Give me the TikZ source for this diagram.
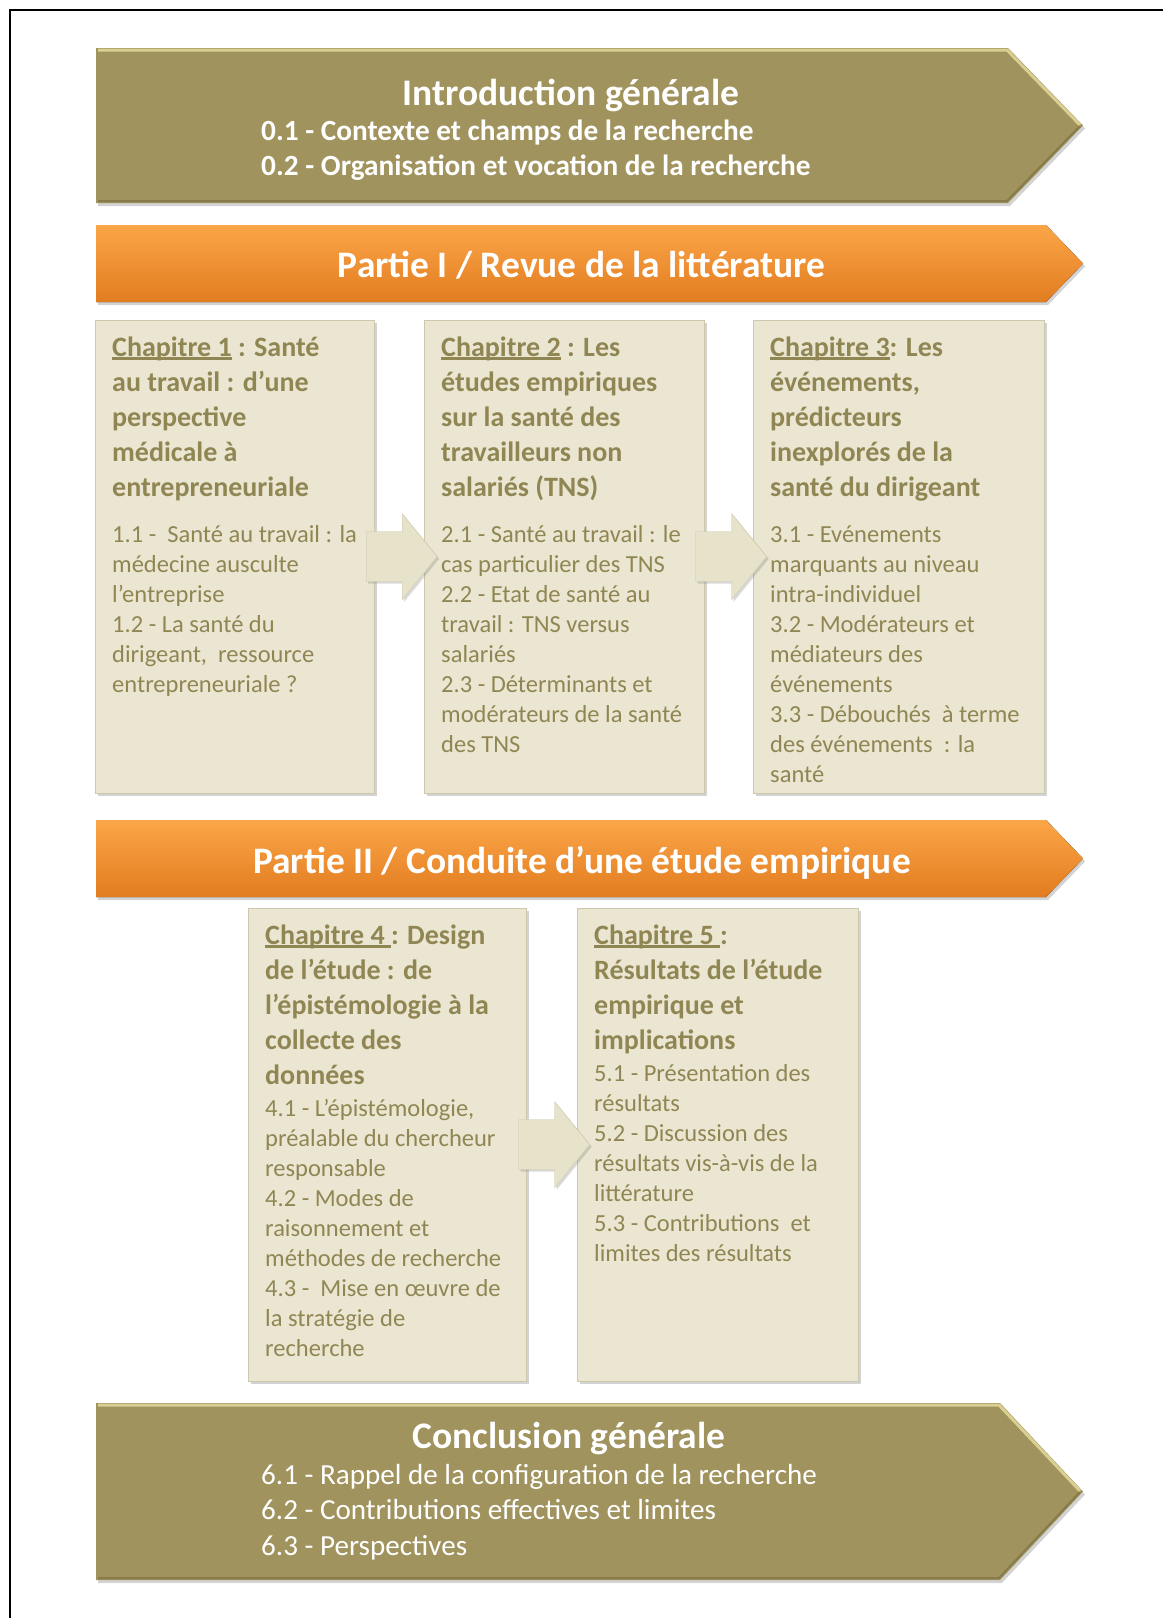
\documentclass[tikz,border=0pt]{standalone}
\usepackage{fontspec}
\setmainfont{Carlito}
\usetikzlibrary{calc}
\usetikzlibrary{shadows}

\definecolor{bannerolive}{HTML}{A0935E}
\definecolor{bannerlight}{HTML}{D9CF93}
\definecolor{bannerdark}{HTML}{867B49}
\definecolor{partietop}{HTML}{FBA648}
\definecolor{partiebot}{HTML}{E27C20}
\definecolor{boxfill}{HTML}{EBE6D1}
\definecolor{boxedge}{HTML}{CDC7AC}
\definecolor{chapink}{HTML}{908654}
\definecolor{arrowfill}{HTML}{E7E2CA}

% souligne epais pour les numeros de chapitre
\newcommand\chapul[1]{\setbox0\hbox{#1}\rlap{\rule[-3.5pt]{\wd0}{2.3pt}}\box0\relax}

\begin{document}
\begin{tikzpicture}[x = 1pt, y = -1pt,
		banner/.style = {fill = bannerolive, drop shadow = {shadow xshift = 2pt, shadow yshift = -3pt, opacity = 0.35}},
		partie/.style = {top color = partietop, bottom color = partiebot, drop shadow = {shadow xshift = 2pt, shadow yshift = -3pt, opacity = 0.35}},
		chapbox/.style = {draw = boxedge, fill = boxfill, anchor = north west, inner sep = 0, minimum height = 473pt, drop shadow = {shadow xshift = 3pt, shadow yshift = -3pt, opacity = 0.35}},
		chaptitle/.style = {anchor = base west, align = left, inner sep = 0, text = chapink, font = \bfseries\fontsize{28}{35}\selectfont},
		chapbody/.style = {anchor = base west, align = left, inner sep = 0, text = chapink, font = \fontsize{24.5}{30}\selectfont},
		blockarrow/.style = {fill = arrowfill, draw = boxedge, drop shadow = {shadow xshift = 2pt, shadow yshift = -2pt, opacity = 0.3}},
		bannertext/.style = {text = white, inner sep = 0, anchor = base}]
	\useasboundingbox (0, 0) rectangle (1163, 1618);
	\draw[black, line width = 2pt] (10, 1618) -- (10, 10) -- (1163, 10);

	% introduction (base = derniere ligne)
	\fill[banner] (96, 48) -- (1008, 48) -- (1083, 125.5) -- (1008, 203) -- (96, 203) -- cycle;
	\draw[bannerlight, line width = 3pt] (98, 50) -- (1007, 50) -- (1080, 125);
	\draw[bannerdark, line width = 2pt] (1080, 126) -- (1007, 201) -- (98, 201);
	\node[bannertext, font = \bfseries\fontsize{37.5}{44}\selectfont] (introtitle) at (571, 105) {Introduction générale};
	\node[bannertext, anchor = base west, align = left, font = \bfseries\fontsize{29.3}{35.5}\selectfont] (introlist) at (261, 175.5) {0.1 - Contexte et champs de la recherche\\0.2 - Organisation et vocation de la recherche};

	% partie I
	\fill[partie] (96, 225) -- (1046, 225) -- (1083, 263.5) -- (1046, 302) -- (96, 302) -- cycle;
	\node[bannertext, font = \bfseries\fontsize{37.4}{44}\selectfont] (partie1) at (581.5, 277) {Partie I / Revue de la littérature};

	% chapitres 1 a 3
	\node[chapbox, minimum width = 279pt] (ch1) at (95, 320) {};
	\node[chapbox, minimum width = 280pt] (ch2) at (424, 320) {};
	\node[chapbox, minimum width = 291pt] (ch3) at (753, 320) {};
	\coordinate (a12) at ($(ch1.east)!0.5!(ch2.west)$);
	\coordinate (a23) at ($(ch2.east)!0.5!(ch3.west)$);
	\fill[blockarrow] ($(a12) + (-33, -25)$) -- ++(36, 0) -- ++(0, -18) -- ++(35, 43) -- ++(-35, 43) -- ++(0, -18) -- ++(-36, 0) -- cycle;
	\fill[blockarrow] ($(a23) + (-33, -25)$) -- ++(36, 0) -- ++(0, -18) -- ++(35, 43) -- ++(-35, 43) -- ++(0, -18) -- ++(-36, 0) -- cycle;
	\node[chaptitle] (ch1title) at ($(ch1.north west) + (17, 176)$) {\chapul{Chapitre 1} : Santé\\au travail : d’une\\perspective\\médicale à\\entrepreneuriale};
	\node[chapbody] (ch1body) at ($(ch1.north west) + (17, 372)$) {1.1 -\ \ Santé au travail : la\\médecine ausculte\\l’entreprise\\1.2 - La santé du\\dirigeant,\ \ ressource\\entrepreneuriale ?};
	\node[chaptitle] (ch2title) at ($(ch2.north west) + (17, 176)$) {\chapul{Chapitre 2} : Les\\études empiriques\\sur la santé des\\travailleurs non\\salariés (TNS)};
	\node[chapbody] (ch2body) at ($(ch2.north west) + (17, 432)$) {2.1 - Santé au travail : le\\cas particulier des TNS\\2.2 - Etat de santé au\\travail : TNS versus\\salariés\\2.3 - Déterminants et\\modérateurs de la santé\\des TNS};
	\node[chaptitle] (ch3title) at ($(ch3.north west) + (17, 176)$) {\chapul{Chapitre 3}: Les\\événements,\\prédicteurs\\inexplorés de la\\santé du dirigeant};
	\node[chapbody] (ch3body) at ($(ch3.north west) + (17, 462)$) {3.1 - Evénements\\marquants au niveau\\intra-individuel\\3.2 - Modérateurs et\\médiateurs des\\événements\\3.3 - Débouchés\ \ à terme\\des événements\ \ : la\\santé};

	% partie II
	\fill[partie] (96, 820) -- (1046, 820) -- (1083, 858.5) -- (1046, 897) -- (96, 897) -- cycle;
	\node[bannertext, font = \bfseries\fontsize{37.4}{44}\selectfont] (partie2) at (582, 873) {Partie II / Conduite d’une étude empirique};

	% chapitres 4 et 5
	\node[chapbox, minimum width = 278pt] (ch4) at (248, 908) {};
	\node[chapbox, minimum width = 281pt] (ch5) at (577, 908) {};
	\coordinate (a45) at ($(ch4.east)!0.5!(ch5.west)$);
	\fill[blockarrow] ($(a45) + (-33, -25)$) -- ++(36, 0) -- ++(0, -18) -- ++(35, 43) -- ++(-35, 43) -- ++(0, -18) -- ++(-36, 0) -- cycle;
	\node[chaptitle] (ch4title) at ($(ch4.north west) + (17, 176)$) {\chapul{Chapitre 4\ }: Design\\de l’étude : de\\l’épistémologie à la\\collecte des\\données};
	\node[chapbody] (ch4body) at ($(ch4.north west) + (17, 448)$) {4.1 - L’épistémologie,\\préalable du chercheur\\responsable\\4.2 - Modes de\\raisonnement et\\méthodes de recherche\\4.3 -\ \ Mise en œuvre de\\la stratégie de\\recherche};
	\node[chaptitle] (ch5title) at ($(ch5.north west) + (17, 141)$) {\chapul{Chapitre 5\ }:\\Résultats de l’étude\\empirique et\\implications};
	\node[chapbody] (ch5body) at ($(ch5.north west) + (17, 353)$) {5.1 - Présentation des\\résultats\\5.2 - Discussion des\\résultats vis-à-vis de la\\littérature\\5.3 - Contributions\ \ et\\limites des résultats};

	% conclusion
	\fill[banner] (96, 1403) -- (1000, 1403) -- (1083, 1491.5) -- (1000, 1580) -- (96, 1580) -- cycle;
	\draw[bannerlight, line width = 3pt] (98, 1405) -- (999, 1405) -- (1080, 1491);
	\draw[bannerdark, line width = 2pt] (1080, 1492) -- (999, 1578) -- (98, 1578);
	\node[bannertext, font = \bfseries\fontsize{37.5}{44}\selectfont] (conctitle) at (569, 1448) {Conclusion générale};
	\node[bannertext, anchor = base west, align = left, font = \fontsize{29.1}{35.5}\selectfont] (conclist) at (261, 1555) {6.1 - Rappel de la configuration de la recherche\\6.2 - Contributions effectives et limites\\6.3 - Perspectives};
\end{tikzpicture}
\end{document}
